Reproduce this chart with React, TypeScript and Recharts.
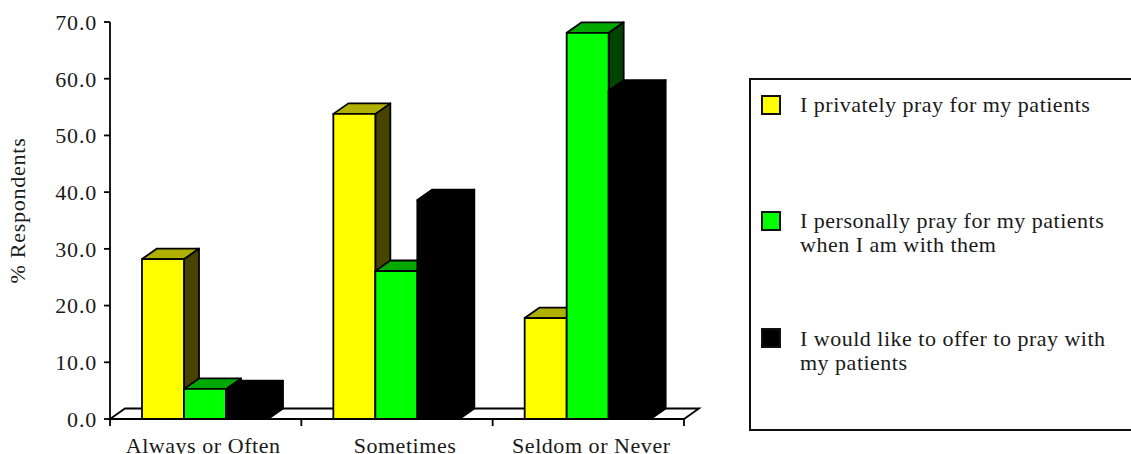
import React from "react";
import { BarChart, Bar, XAxis, YAxis, ReferenceArea } from "recharts";

const categories = ["Always or Often", "Sometimes", "Seldom or Never"];
const privatelyValues = [28.2, 53.8, 17.8];
const personallyValues = [5.3, 26.1, 68.1];
const offerValues = [4.9, 38.6, 57.9];
const yTicks = [0, 10, 20, 30, 40, 50, 60, 70];
const legendLabels = [
  ["I privately pray for my patients"],
  ["I personally pray for my patients", "when I am with them"],
  ["I would like to offer to pray with", "my patients"],
];
const seriesKeys = ["privately", "personally", "offer"];
const fronts = ["#ffff00", "#00ff00", "#000000"];
const tops = ["#b0b000", "#00a800", "#000000"];
const sides = ["#484400", "#004400", "#000000"];

const data = categories.map((name, i) => ({
  name,
  privately: privatelyValues[i],
  personally: personallyValues[i],
  offer: offerValues[i],
}));

const W = 1131;
const H = 454;
const DX = 15;
const DY = 10.5;
const FONT = '"Liberation Serif", serif';
const FONT_SIZE = 22;
const TEXT = "#1a1a1a";
const PLOT_LEFT = 110;
const PLOT_RIGHT_MARGIN = 447;
const STEP = (W - PLOT_LEFT - PLOT_RIGHT_MARGIN) / 3;
const labelShift = [-2.5, 8, 3];
const AXIS_W = 1.8;

const Bar3D = (idx: number) => (props: any) => {
  const { y, width, height } = props;
  const x = props.x - 1;
  return (
    <g stroke="#000" strokeWidth={AXIS_W} strokeLinejoin="round">
      <path
        d={`M${x + width},${y} L${x + width + DX},${y - DY} V${y + height - DY} L${x + width},${y + height} Z`}
        fill={sides[idx]}
      />
      <path
        d={`M${x},${y} L${x + DX},${y - DY} H${x + width + DX} L${x + width},${y} Z`}
        fill={tops[idx]}
      />
      <rect x={x} y={y} width={width} height={height} fill={fronts[idx]} />
    </g>
  );
};

const Floor = (props: any) => {
  const { x, y, width, height } = props;
  const b = y + height;
  return (
    <path
      d={`M${x},${b} L${x + DX},${y} H${x + width + DX} L${x + width},${b} Z`}
      fill="#fff"
      stroke="#000"
      strokeWidth={AXIS_W}
    />
  );
};

const XTick = (props: any) => {
  const { x, y, index, payload } = props;
  const left = x - STEP / 2;
  return (
    <g>
      <line x1={left} x2={left} y1={y - 8} y2={y - 1} stroke="#000" strokeWidth={AXIS_W} />
      {index === categories.length - 1 && (
        <line x1={x + STEP / 2} x2={x + STEP / 2} y1={y - 8} y2={y - 1} stroke="#000" strokeWidth={AXIS_W} />
      )}
      <text
        x={x + labelShift[index]}
        y={y + 26}
        textAnchor="middle"
        fontFamily={FONT}
        fontSize={FONT_SIZE}
        letterSpacing={0.55}
        fill={TEXT}
      >
        {payload.value}
      </text>
    </g>
  );
};

const YTitle = (props: any) => {
  const { viewBox } = props;
  const cy = viewBox.y + viewBox.height / 2 - 10;
  return (
    <text
      x={0}
      y={0}
      transform={`translate(25 ${cy}) rotate(-90)`}
      textAnchor="middle"
      fontFamily={FONT}
      fontSize={FONT_SIZE}
      letterSpacing={0.75}
      fill={TEXT}
    >
      % Respondents
    </text>
  );
};

const swatchTops = [95, 211, 328];
const textTops = [93, 209, 327];

const LegendBox = () => (
  <div
    style={{
      position: "absolute",
      left: 749,
      top: 78,
      width: W - 749 + 4,
      height: 353,
      boxSizing: "border-box",
      border: "2px solid #111",
      background: "#fff",
      fontFamily: FONT,
      fontSize: FONT_SIZE,
      letterSpacing: 0.5,
      color: TEXT,
    }}
  >
    {legendLabels.map((lines, i) => (
      <React.Fragment key={seriesKeys[i]}>
        <div
          style={{
            position: "absolute",
            left: 10,
            top: swatchTops[i] - 80,
            width: 20,
            height: 20,
            boxSizing: "border-box",
            border: "2px solid #111",
            background: fronts[i],
          }}
        />
        <div
          style={{
            position: "absolute",
            left: 49,
            top: textTops[i] - 80,
            lineHeight: "24px",
            whiteSpace: "nowrap",
            textAlign: "left",
          }}
        >
          {lines.map((l) => (
            <div key={l}>{l}</div>
          ))}
        </div>
      </React.Fragment>
    ))}
  </div>
);

export default function App() {
  return (
    <div style={{ position: "absolute", left: 0, top: 0, width: W, height: H, overflow: "hidden" }}>
      <BarChart
        width={W}
        height={H}
        data={data}
        barSize={42}
        barGap={0}
        margin={{ top: 22, right: PLOT_RIGHT_MARGIN, bottom: 0, left: 0 }}
      >
        <ReferenceArea y1={0} y2={1.85} shape={Floor} ifOverflow="visible" isFront={false} />
        <XAxis
          dataKey="name"
          axisLine={{ stroke: "#000", strokeWidth: AXIS_W }}
          tickLine={false}
          tick={<XTick />}
          interval={0}
          height={35}
        />
        <YAxis
          width={PLOT_LEFT}
          domain={[0, 70]}
          ticks={yTicks}
          tickFormatter={(v: number) => v.toFixed(1)}
          axisLine={{ stroke: "#000", strokeWidth: AXIS_W }}
          tickLine={{ stroke: "#000", strokeWidth: AXIS_W }}
          tickSize={6}
          tickMargin={7}
          tick={{ fontFamily: FONT, fontSize: FONT_SIZE, fill: TEXT, letterSpacing: 0.8 }}
          label={<YTitle />}
        />
        {seriesKeys.map((k, i) => (
          <Bar key={k} dataKey={k} name={legendLabels[i].join(" ")} shape={Bar3D(i)} isAnimationActive={false} />
        ))}
      </BarChart>
      <LegendBox />
    </div>
  );
}
